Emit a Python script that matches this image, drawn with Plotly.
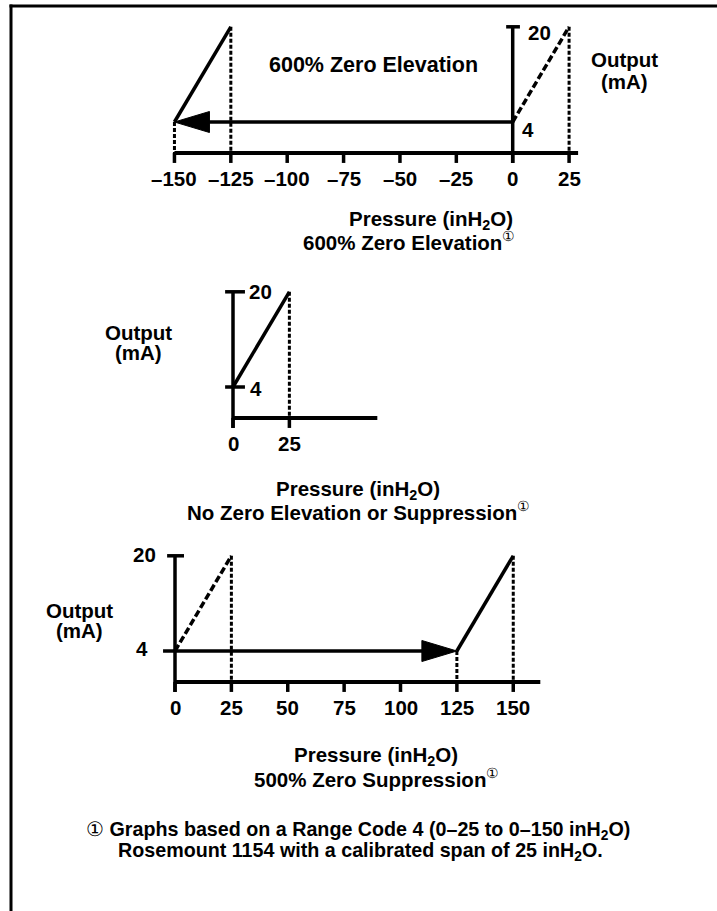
import plotly.graph_objects as go

W, H = 717, 911
SX = 2.255   # px per inH2O
SY = 5.95    # px per mA

# ---------------- data ----------------
output_ma = [4, 20]                      # 4-20 mA output span

# 600% zero elevation
elev_ticks = [-150, -125, -100, -75, -50, -25, 0, 25]
elev_tick_text = ["–150", "–125", "–100", "–75", "–50", "–25", "0", "25"]
elev_cal_p = [-150, -125]                # elevated calibration
elev_ref_p = [0, 25]                     # nominal 0-25 range

# no zero elevation / suppression
none_ticks = [0, 25]
none_tick_text = ["0", "25"]
none_cal_p = [0, 25]

# 500% zero suppression
supp_ticks = [0, 25, 50, 75, 100, 125, 150]
supp_tick_text = ["0", "25", "50", "75", "100", "125", "150"]
supp_cal_p = [125, 150]
supp_ref_p = [0, 25]

AX_Y = -1.2          # level of the pressure axis (mA units)
TICK_B = AX_Y - 10 / SY
FONT = "Liberation Sans, Arial, Helvetica, sans-serif"
FS = 20.5
DOT = dict(width=3, dash="4px,2px")

fig = go.Figure()
annotations = []

def axes_names(k):
    return ("x" if k == 1 else f"x{k}"), ("y" if k == 1 else f"y{k}")

def line(k, xs, ys, width=3.5, dash="solid"):
    xa, ya = axes_names(k)
    fig.add_trace(go.Scatter(x=xs, y=ys, mode="lines", xaxis=xa, yaxis=ya,
                             line=dict(color="black", width=width, dash=dash),
                             hoverinfo="skip", showlegend=False))

def arrowhead(k, tip_x, tip_y, direction):
    xa, ya = axes_names(k)
    L = 35 / SX * direction
    h = 10.5 / SY
    fig.add_trace(go.Scatter(x=[tip_x, tip_x - L, tip_x - L, tip_x],
                             y=[tip_y, tip_y + h, tip_y - h, tip_y],
                             mode="lines", fill="toself", fillcolor="black",
                             xaxis=xa, yaxis=ya,
                             line=dict(color="black", width=1),
                             hoverinfo="skip", showlegend=False))

def text(k, x, y, t, xs=0, ys=0, size=FS, xanchor="center"):
    xa, ya = axes_names(k)
    annotations.append(dict(x=x, y=y, xref=xa, yref=ya, text=f"<b>{t}</b>",
                            showarrow=False, xshift=xs, yshift=ys,
                            xanchor=xanchor, yanchor="middle",
                            font=dict(family=FONT, size=size, color="black")))

def ptext(px, py, t, size=FS):
    annotations.append(dict(x=px / W, y=1 - py / H, xref="paper", yref="paper",
                            text=t, showarrow=False, xanchor="center", yanchor="middle",
                            font=dict(family=FONT, size=size, color="black")))

def xaxis_with_ticks(k, ticks, labels, x_start, x_end):
    line(k, [x_start, x_end], [AX_Y, AX_Y], width=4)
    tx, ty = [], []
    for v in ticks:
        tx += [v, v, None]
        ty += [AX_Y, TICK_B, None]
    line(k, tx, ty, width=3.5)
    for v, lab in zip(ticks, labels):
        text(k, v, AX_Y, lab, ys=-26)

lo, hi = output_ma

# ---------- chart 1: 600% zero elevation ----------
k = 1
xaxis_with_ticks(k, elev_ticks, elev_tick_text, elev_ticks[0], 29)
line(k, [0, 0], [hi, TICK_B], width=3.5)                  # output axis
line(k, [-2.9, 3.2], [hi, hi], width=3.5)                 # 20 mA tick
line(k, [elev_cal_p[0], elev_cal_p[0]], [lo, AX_Y], **DOT)
line(k, [elev_cal_p[1], elev_cal_p[1]], [hi, AX_Y], **DOT)
line(k, [elev_ref_p[1], elev_ref_p[1]], [hi, AX_Y], **DOT)
line(k, elev_cal_p, output_ma, width=3.5)
line(k, elev_ref_p, output_ma, width=3.5, dash="7px,3px")
line(k, [0, elev_cal_p[0] + 30 / SX], [lo, lo], width=3.5)
arrowhead(k, elev_cal_p[0], lo, -1)
text(k, 0, hi, "20", xs=27, ys=-6)
text(k, 0, lo, "4", xs=15, ys=-7)

# ---------- chart 2: no elevation / suppression ----------
k = 2
xaxis_with_ticks(k, none_ticks, none_tick_text, 0, 64)
line(k, [0, 0], [hi, TICK_B], width=3.5)
line(k, [-3.5, 5.3], [hi, hi], width=3.5)
line(k, [-3.5, 5.3], [lo, lo], width=3.5)
line(k, [none_cal_p[1], none_cal_p[1]], [hi, AX_Y], **DOT)
line(k, none_cal_p, output_ma, width=3.5)
text(k, 0, hi, "20", xs=27, ys=0)
text(k, 0, lo, "4", xs=23, ys=-1)

# ---------- chart 3: 500% zero suppression ----------
k = 3
xaxis_with_ticks(k, supp_ticks, supp_tick_text, 0, 162)
line(k, [0, 0], [hi, TICK_B], width=3.5)
line(k, [-3.5, 4], [hi, hi], width=3.5)
line(k, [supp_ref_p[1], supp_ref_p[1]], [hi, AX_Y], **DOT)
line(k, [supp_cal_p[0], supp_cal_p[0]], [lo, AX_Y], **DOT)
line(k, [supp_cal_p[1], supp_cal_p[1]], [hi, AX_Y], **DOT)
line(k, supp_ref_p, output_ma, width=3.5, dash="7px,3px")
line(k, supp_cal_p, output_ma, width=3.5)
line(k, [-5.3, supp_cal_p[0] - 30 / SX], [lo, lo], width=3.5)
arrowhead(k, supp_cal_p[0], lo, 1)
text(k, 0, hi, "20", xs=-31, ys=1)
text(k, 0, lo, "4", xs=-33, ys=3)

# ---------- free text ----------
SUP = "<sup>①</sup>"
ptext(373, 65, "<b>600% Zero Elevation</b>", size=21.5)
ptext(624, 60, "<b>Output</b>")
ptext(624, 82, "<b>(mA)</b>")
ptext(431, 220, "<b>Pressure (inH<sub>2</sub>O)</b>")
ptext(409, 241, "<b>600% Zero Elevation</b>" + SUP)

ptext(138, 332, "<b>Output</b>")
ptext(138, 352, "<b>(mA)</b>")
ptext(358, 490, "<b>Pressure (inH<sub>2</sub>O)</b>")
ptext(358, 511, "<b>No Zero Elevation or Suppression</b>" + SUP)

ptext(79, 610, "<b>Output</b>")
ptext(79, 630, "<b>(mA)</b>")
ptext(376, 756, "<b>Pressure (inH<sub>2</sub>O)</b>")
ptext(376, 778, "<b>500% Zero Suppression</b>" + SUP)

ptext(358, 830, "① <b>Graphs based on a Range Code 4 (0–25 to 0–150 inH<sub>2</sub>O)</b>", size=19.7)
ptext(360, 851, "<b>Rosemount 1154 with a calibrated span of 25 inH<sub>2</sub>O.</b>", size=19.7)

# ---------- axes (hidden, fixed scales, overlaid full-page subplots) ----------
layout_axes = {}
origins = {1: (512.7, 122.0), 2: (233.0, 387.0), 3: (175.0, 651.0)}
for k, (x0, y4) in origins.items():
    xr = [(0 - x0) / SX, (W - x0) / SX]
    yr = [lo - (H - y4) / SY, lo + y4 / SY]
    xn = "xaxis" if k == 1 else f"xaxis{k}"
    yn = "yaxis" if k == 1 else f"yaxis{k}"
    layout_axes[xn] = dict(domain=[0, 1], range=xr, visible=False, fixedrange=True,
                           anchor="y" if k == 1 else f"y{k}")
    layout_axes[yn] = dict(domain=[0, 1], range=yr, visible=False, fixedrange=True,
                           anchor="x" if k == 1 else f"x{k}")

fig.update_layout(
    width=W, height=H,
    margin=dict(l=0, r=0, t=0, b=0),
    paper_bgcolor="white", plot_bgcolor="rgba(0,0,0,0)",
    showlegend=False,
    annotations=annotations,
    shapes=[
        dict(type="line", xref="paper", yref="paper",
             x0=9.5 / W, x1=1.05, y0=1 - 6 / H, y1=1 - 6 / H,
             line=dict(color="black", width=3)),
        dict(type="line", xref="paper", yref="paper",
             x0=11 / W, x1=11 / W, y0=1 - 4.5 / H, y1=-0.05,
             line=dict(color="black", width=3)),
    ],
    **layout_axes,
)

fig.write_html(
    "out.html",
    config={"displayModeBar": False, "staticPlot": True},
    post_script="document.body.style.margin='0';document.body.style.overflow='hidden';",
)
